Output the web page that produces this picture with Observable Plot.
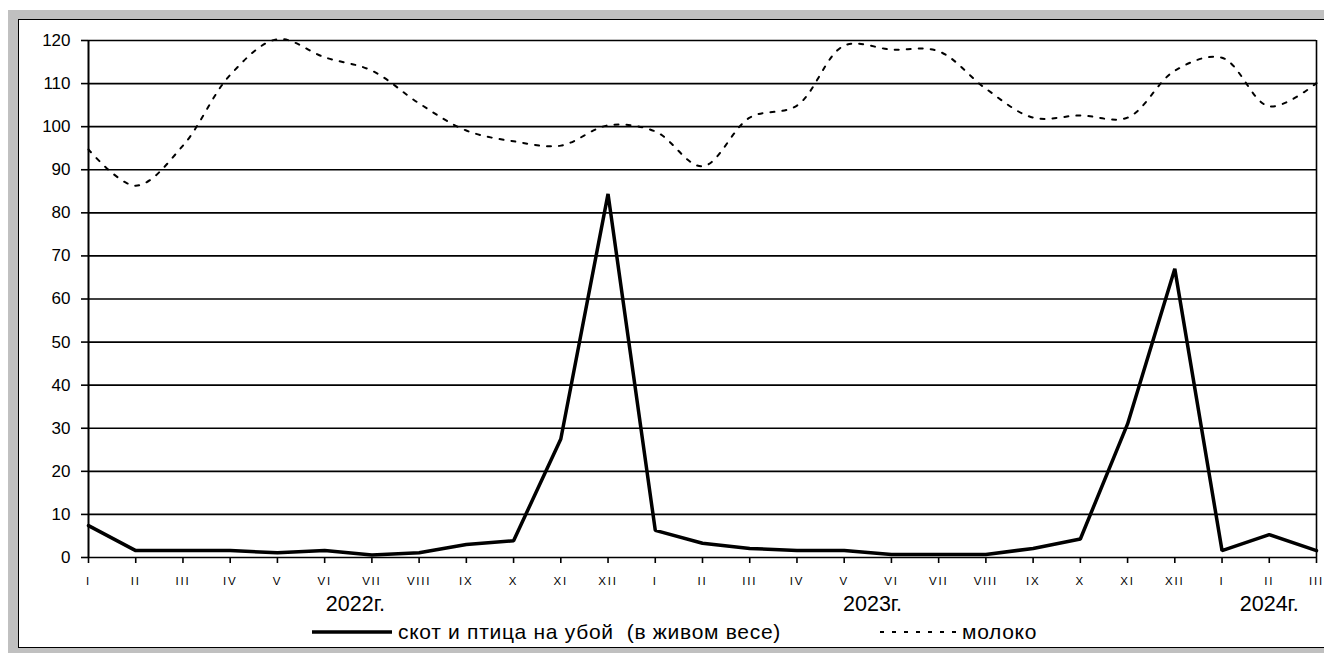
<!DOCTYPE html>
<html>
<head>
<meta charset="utf-8">
<script src="https://cdn.jsdelivr.net/npm/d3@7"></script>
<script src="https://cdn.jsdelivr.net/npm/@observablehq/plot@0.6"></script>
<style>
  html, body { margin: 0; padding: 0; background: #fff; width: 1324px; height: 653px; overflow: hidden; }
  body { position: relative; font-family: "Liberation Sans", Arial, sans-serif; }
  #gray { position: absolute; left: 8px; top: 10px; width: 1400px; height: 700px; background: #c0c0c0; }
  #white { position: absolute; left: 18px; top: 19px; width: 1400px; height: 627px; background: #fff; border: 1px solid #000; }
  #chart { position: absolute; left: 0; top: 0; }
  #chart svg g[aria-label="x-axis tick label"] text { letter-spacing: 1.8px; }
  #legend { position: absolute; left: 0; top: 621px; width: 1324px; height: 22px; font-size: 21px; letter-spacing: 0.7px; color: #000; }
  .item { position: absolute; top: 0; display: flex; align-items: center; height: 22px; white-space: pre; }
  .item svg { display: block; }
</style>
</head>
<body>
<div id="gray"></div>
<div id="white"></div>
<div id="chart"></div>
<div id="legend"></div>
<script>
const months = ["I","II","III","IV","V","VI","VII","VIII","IX","X","XI","XII",
                "I","II","III","IV","V","VI","VII","VIII","IX","X","XI","XII",
                "I","II","III"];
const meat = [7.4, 1.6, 1.6, 1.6, 1.1, 1.6, 0.6, 1.1, 3.0, 3.9, 27.5, 84.4,
              6.3, 3.3, 2.1, 1.6, 1.6, 0.7, 0.7, 0.7, 2.1, 4.3, 31.0, 67.0,
              1.6, 5.3, 1.6];
const milk = [94.7, 86.3, 95.6, 112.0, 120.3, 116.1, 113.0, 105.4, 99.1, 96.6, 95.6, 100.3,
              98.9, 90.8, 102.1, 104.9, 118.8, 117.9, 117.5, 108.8, 102.1, 102.6, 102.1, 113.0,
              116.0, 104.7, 110.1];
const yTicks = [0, 10, 20, 30, 40, 50, 60, 70, 80, 90, 100, 110, 120];
const yearLabels = ["2022г.", "2023г.", "2024г."];
const yearPos = [5.65, 16.6, 25];
const seriesNames = ["скот и птица на убой  (в живом весе)", "молоко"];

const idx = months.map((_, i) => i);

const plot = Plot.plot({
  width: 1324,
  height: 615,
  marginLeft: 88,
  marginRight: 8,
  marginTop: 40,
  marginBottom: 58,
  x: {type: "linear", domain: [0, months.length - 1], axis: null},
  y: {domain: [0, 120], axis: null},
  style: {background: "transparent", fontFamily: "'Liberation Sans', Arial, sans-serif", color: "#000", overflow: "visible"},
  marks: [
    Plot.ruleY(yTicks, {stroke: "#000", strokeWidth: 1.6}),
    Plot.ruleX([0], {stroke: "#000", strokeWidth: 2}),
    Plot.ruleX([months.length - 1], {stroke: "#000", strokeWidth: 1.6}),
    Plot.axisY({ticks: yTicks, tickSize: 7, tickPadding: 11, fontSize: 17, strokeWidth: 1.6, tickFormat: d => String(d)}),
    Plot.axisX({ticks: idx, tickFormat: i => months[i], tickSize: 6, tickPadding: 13, fontSize: 11.5, strokeWidth: 1.6}),
    Plot.lineY(milk, {x: idx, y: milk, curve: "catmull-rom", stroke: "#000", strokeWidth: 2, strokeDasharray: "4,8"}),
    Plot.lineY(meat, {x: idx, y: meat, stroke: "#000", strokeWidth: 3.5, strokeLinejoin: "miter"}),
    Plot.text(yearLabels, {x: (d, i) => yearPos[i], y: 0, dy: 47, text: d => d, fontSize: 21.5, fill: "#000"})
  ]
});
document.getElementById("chart").appendChild(plot);

// legend
const legend = document.getElementById("legend");
const items = [
  {left: 312, w: 80, sw: 3.5, dash: null, name: seriesNames[0]},
  {left: 880, w: 76, sw: 2, dash: "4,8", name: seriesNames[1]}
];
items.forEach(it => {
  const div = document.createElement("div");
  div.className = "item";
  div.style.left = it.left + "px";
  const s = d3.create("svg").attr("width", it.w + 6).attr("height", 22);
  s.append("line").attr("x1", 0).attr("x2", it.w).attr("y1", 11).attr("y2", 11)
    .attr("stroke", "#000").attr("stroke-width", it.sw)
    .attr("stroke-dasharray", it.dash);
  div.appendChild(s.node());
  const t = document.createElement("span");
  t.textContent = it.name;
  div.appendChild(t);
  legend.appendChild(div);
});
</script>
</body>
</html>
